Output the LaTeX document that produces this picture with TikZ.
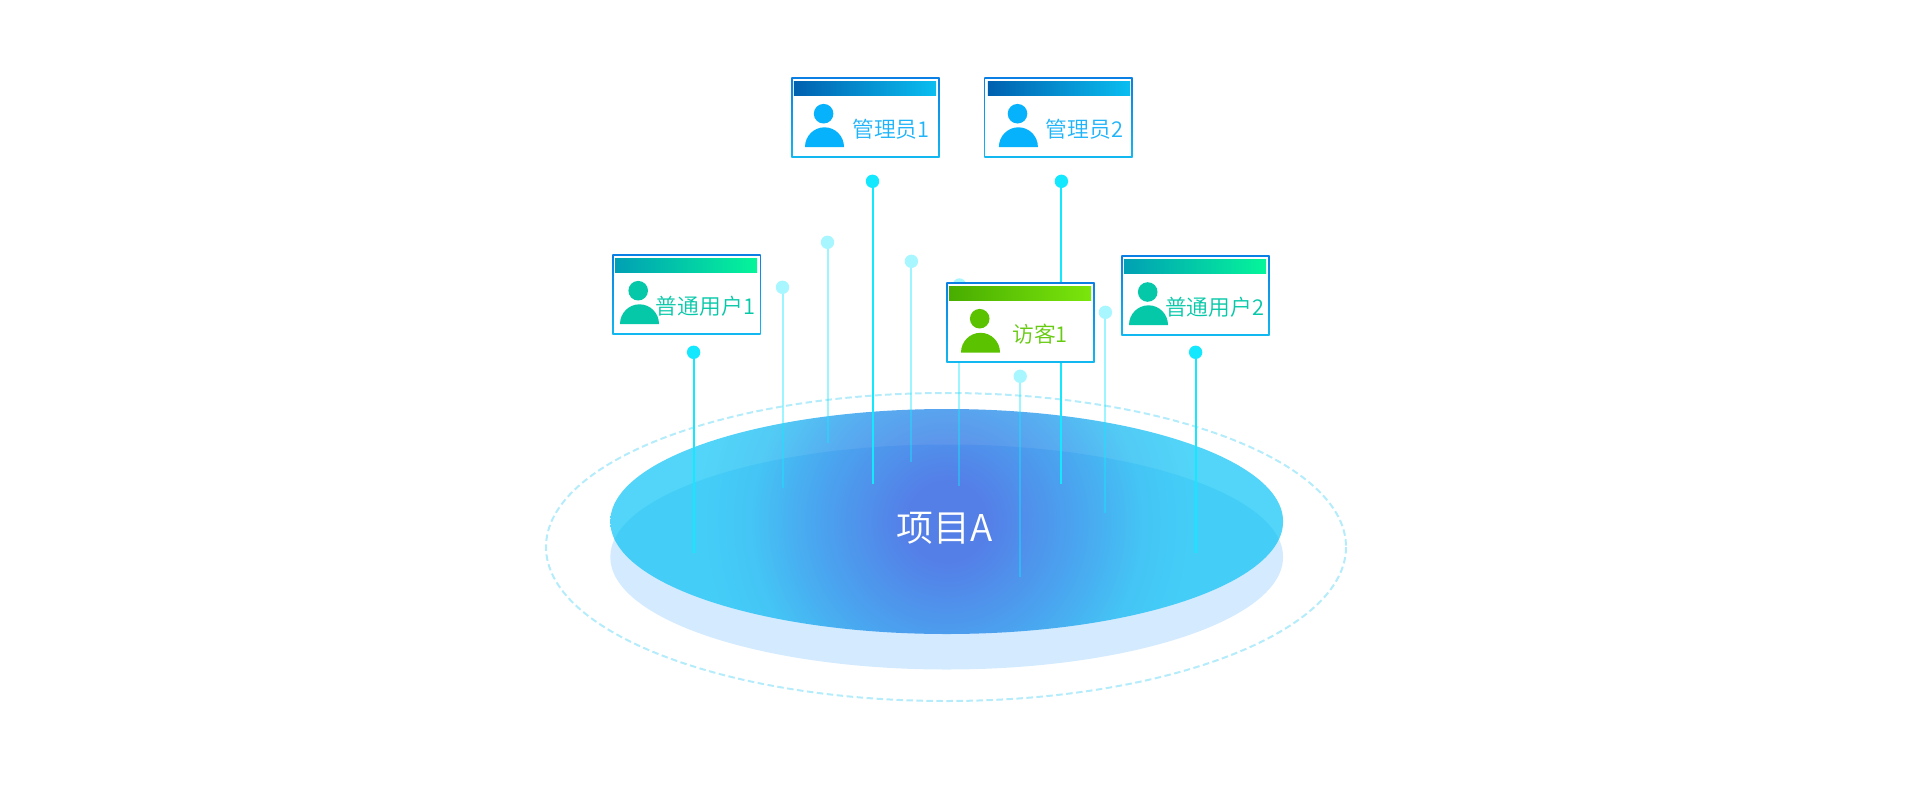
\documentclass[tikz,border=0pt]{standalone}
\usepackage{fontspec}
\setmainfont{Noto Sans CJK SC DemiLight}
\usetikzlibrary{positioning}
\definecolor{admincol}{HTML}{06B2FB}
\definecolor{admintext}{HTML}{1FB4FA}
\definecolor{adminleft}{HTML}{0060B0}
\definecolor{adminright}{HTML}{0ABEF0}
\definecolor{usercol}{HTML}{05C8A8}
\definecolor{userleft}{HTML}{00A0B4}
\definecolor{userright}{HTML}{05F59A}
\definecolor{guestcol}{HTML}{5BC200}
\definecolor{guesttext}{HTML}{66CB10}
\definecolor{guestleft}{HTML}{48AD00}
\definecolor{guestright}{HTML}{7AE60C}
\definecolor{cardtop}{HTML}{0A80E4}
\definecolor{cardbottom}{HTML}{12B8F0}
\definecolor{brightcol}{HTML}{14E8FF}
\definecolor{palecol}{HTML}{A8F6FF}
\definecolor{ringcol}{HTML}{B5ECFB}
\definecolor{basecol}{HTML}{D4EBFF}
\definecolor{discin}{HTML}{1F52DE}
\definecolor{discmid}{HTML}{0F8BEA}
\definecolor{discedge}{HTML}{08B5F1}
\definecolor{discout}{HTML}{08C3F5}
\pgfdeclareradialshading{discshade}{\pgfpointorigin}{color(0bp)=(discin); color(3bp)=(discin); color(10bp)=(discmid); color(14.4bp)=(discedge); color(18.4bp)=(discout); color(50bp)=(discout)}
\tikzset{
	card/.style={rectangle, inner sep=0, outer sep=0, minimum width=2.966cm, minimum height=1.608cm, top color=cardtop, bottom color=cardbottom},
	brightdot/.style={circle, inner sep=0, outer sep=0, minimum size=.268cm, fill=brightcol},
	paledot/.style={circle, inner sep=0, outer sep=0, minimum size=.268cm, fill=palecol},
	brightline/.style={draw=brightcol, line width=.04cm},
	paleline/.style={draw=brightcol, draw opacity=.42, line width=.04cm},
	cardtext/.style={anchor=west, inner sep=0, font=\fontsize{12.4}{12.4}\selectfont},
}
\begin{document}
\begin{tikzpicture}[x=.02cm, y=-.02cm]
	\useasboundingbox (0,0) rectangle (1920,798);
	%ring and disc
	\draw[draw=ringcol, line width=.04cm, dash pattern=on .13cm off .07cm] (946,547) ellipse [x radius=400, y radius=154];
	\fill[basecol] (946.7,557) ellipse [x radius=336.4, y radius=112.5];
	\begin{scope}
		\clip (946.7,521.5) ellipse [x radius=336.4, y radius=112.5];
		\shade[shading=discshade, fill opacity=.7] (946.7,521.5) circle (340);
	\end{scope}
	\node[inner sep=0, text=white, font=\fontsize{21}{21}\selectfont] (project) at (944.5,528) {项目A};
	%pale pins
	\node[paledot] (palea) at (782.5,287.3) {};
	\node[paledot] (paleb) at (827.5,242.3) {};
	\node[paledot] (palec) at (911.4,261.3) {};
	\node[paledot] (paled) at (959.4,285) {};
	\node[paledot] (palee) at (1020.2,376.3) {};
	\node[paledot] (palef) at (1105.4,312.3) {};
	\coordinate (paleaend) at (782.5,488);
	\coordinate (palebend) at (827.5,443);
	\coordinate (palecend) at (911.4,461.7);
	\coordinate (paledend) at (959.4,486);
	\coordinate (paleeend) at (1020.2,576.7);
	\coordinate (palefend) at (1105.4,513);
	\draw[paleline] (palea) -- (paleaend);
	\draw[paleline] (paleb) -- (palebend);
	\draw[paleline] (palec) -- (palecend);
	\draw[paleline] (paled) -- (paledend);
	\draw[paleline] (palee) -- (paleeend);
	\draw[paleline] (palef) -- (palefend);
	%bright pins
	\node[brightdot] (brighta) at (693.6,352.3) {};
	\node[brightdot] (brightb) at (872.5,181.3) {};
	\node[brightdot] (brightc) at (1061.4,181.3) {};
	\node[brightdot] (brightd) at (1195.6,352.3) {};
	\coordinate (brightaend) at (693.6,553);
	\coordinate (brightbend) at (872.5,484);
	\coordinate (brightcend) at (1061.4,484);
	\coordinate (brightdend) at (1195.6,553);
	\draw[brightline] (brighta) -- (brightaend);
	\draw[brightline] (brightb) -- (brightbend);
	\draw[brightline] (brightc) -- (brightcend);
	\draw[brightline] (brightd) -- (brightdend);
	%admin 1
	\node[card] (admina) at (865.5,117.5) {};
	\fill[white] ([shift={(1.2,-1.2)}]admina.south west) rectangle ([shift={(-1.2,1.2)}]admina.north east);
	\shade[left color=adminleft, right color=adminright] (793.9,81) rectangle (936,95);
	\fill[admincol] (823.6,113.7) circle (9.8);
	\fill[admincol] (805,147) arc [start angle=180, end angle=360, x radius=19.5, y radius=19.7] -- cycle;
	\node[cardtext, text=admintext] (adminatext) at (852,129) {管理员1};
	%admin 2
	\node[card] (adminb) at (1058.4,117.5) {};
	\fill[white] ([shift={(1.2,-1.2)}]adminb.south west) rectangle ([shift={(-1.2,1.2)}]adminb.north east);
	\shade[left color=adminleft, right color=adminright] (987.9,81) rectangle (1130,95);
	\fill[admincol] (1017.5,113.7) circle (9.8);
	\fill[admincol] (998.9,147) arc [start angle=180, end angle=360, x radius=19.5, y radius=19.7] -- cycle;
	\node[cardtext, text=admintext] (adminbtext) at (1045.5,129) {管理员2};
	%user 1
	\node[card] (usera) at (686.6,294.5) {};
	\fill[white] ([shift={(1.2,-1.2)}]usera.south west) rectangle ([shift={(-1.2,1.2)}]usera.north east);
	\shade[left color=userleft, right color=userright] (615,258) rectangle (757.1,272);
	\fill[usercol] (638.2,290.7) circle (9.8);
	\fill[usercol] (620,324) arc [start angle=180, end angle=360, x radius=19.5, y radius=19.7] -- cycle;
	\node[cardtext, text=usercol] (useratext) at (655.5,306) {普通用户1};
	%user 2
	\node[card] (userb) at (1195.5,295.5) {};
	\fill[white] ([shift={(1.2,-1.2)}]userb.south west) rectangle ([shift={(-1.2,1.2)}]userb.north east);
	\shade[left color=userleft, right color=userright] (1124,259) rectangle (1266,273);
	\fill[usercol] (1147.7,292) circle (9.8);
	\fill[usercol] (1129,325) arc [start angle=180, end angle=360, x radius=19.5, y radius=19.7] -- cycle;
	\node[cardtext, text=usercol] (userbtext) at (1164.8,307.5) {普通用户2};
	%guest
	\node[card] (guest) at (1020.5,322.5) {};
	\fill[white] ([shift={(1.2,-1.2)}]guest.south west) rectangle ([shift={(-1.2,1.2)}]guest.north east);
	\shade[left color=guestleft, right color=guestright] (949,286) rectangle (1091,300);
	\fill[guestcol] (979.7,318.7) circle (9.8);
	\fill[guestcol] (961,352.5) arc [start angle=180, end angle=360, x radius=19.5, y radius=19.7] -- cycle;
	\node[cardtext, text=guesttext] (guesttext) at (1012,334) {访客1};
\end{tikzpicture}
\end{document}
